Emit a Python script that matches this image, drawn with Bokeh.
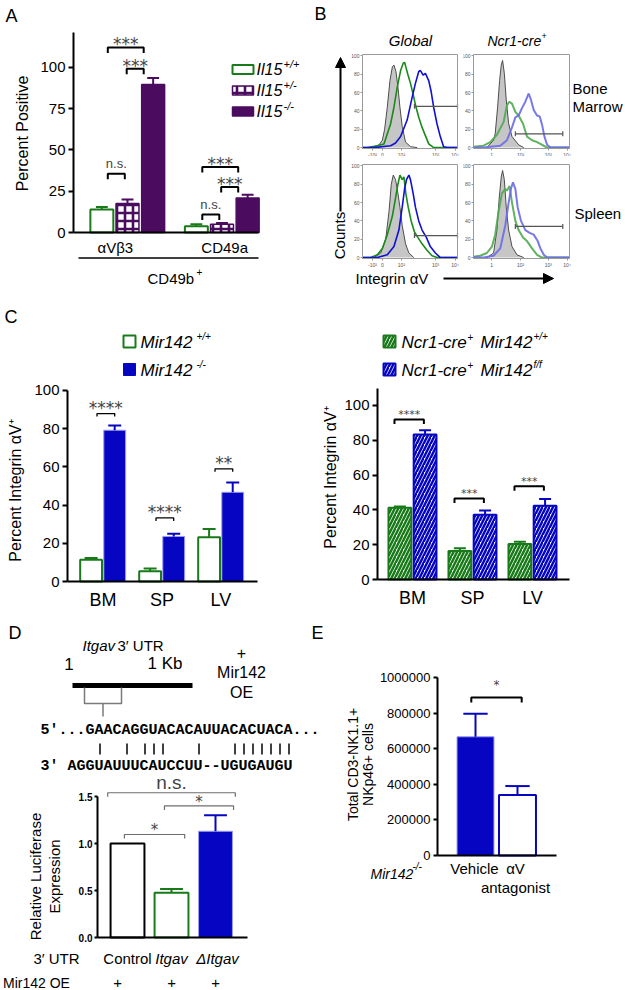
import math
from bokeh.plotting import figure
from bokeh.models import (Label, Range1d, FixedTicker, PrintfTickFormatter, Arrow, NormalHead)
from bokeh.layouts import row, column
from bokeh.embed import file_html
from bokeh.resources import INLINE

FONT = "Liberation Sans"
MONO = "Liberation Mono"
SYM = "DejaVu Sans"
GREEN = "#187a18"
PURPLE = "#4b0b5f"
BLUE = "#0606c2"
BLUE_EDGE = "#9b9bef"
GRAY_FILL = "#c6c6c6"

# ---------------- Panel A data ----------------
a_groups = ["αVβ3", "CD49a"]
a_genotypes = ["+/+", "+/-", "-/-"]
a_avb3 = [13.9, 17.5, 89.5]
a_avb3_err = [1.6, 2.4, 3.9]
a_cd49a = [3.8, 5.0, 20.9]
a_cd49a_err = [1.2, 0.8, 2.0]
a_ticks = [0, 25, 50, 75, 100]
a_label_x = [1.55, 5.6]
# (group, bar i, bar j, bracket height, label)
a_brackets = [(0, 0, 2, 112.0, "***"), (0, 1, 2, 99.0, "***"), (0, 0, 1, 35.6, "n.s."),
              (1, 0, 2, 39.6, "***"), (1, 1, 2, 27.6, "***"), (1, 0, 1, 10.9, "n.s.")]

# ---------------- Panel B data (histograms, % of max) ----------------
tl_gray_x = [10.5, 17.4, 20.9, 23.3, 26.1, 28.9, 31.4, 33.1, 35.2, 37.3, 39.4, 41.8, 45.3, 50.5, 57.5]
tl_gray_y = [0, 3, 8, 20, 44, 73, 88, 90, 83, 66, 44, 23, 6, 1, 0]
tl_green_x = [0, 5.2, 15.7, 22.6, 29.6, 33.1, 36.6, 40.1, 42.9, 44.3, 45.6, 47.7, 50.5, 53.3, 56.1, 59.2, 62.7, 66.2, 69.7, 74.9, 100]
tl_green_y = [0, 0, 2, 4, 26, 44, 66, 84, 92, 93, 88, 80, 70, 58, 45, 33, 22, 13, 4, 0, 0]
tl_blue_x = [0, 12.2, 29.6, 34.8, 40.1, 47.0, 52.3, 55.7, 59.2, 61.0, 63.8, 66.2, 69.7, 72.1, 74.9, 78.4, 81.9, 85.4, 88.9, 100]
tl_blue_y = [0, 0, 2, 5, 12, 30, 55, 70, 83, 84, 79, 81, 73, 62, 44, 26, 12, 1, 0, 0]
tl_gate = [54.7, 100, 45]

tr_gray_x = [13.9, 20.9, 22.6, 25.1, 27.2, 28.9, 30.3, 32.1, 34.1, 36.6, 40.1, 47.0, 52.3]
tr_gray_y = [0, 8, 15, 44, 73, 90, 95, 81, 52, 26, 12, 3, 0]
tr_green_x = [0, 10.5, 17.4, 24.4, 31.4, 34.8, 37.3, 40.1, 43.6, 47.0, 51.6, 55.7, 61.0, 66.2, 69.7, 73.2, 76.7, 100]
tr_green_y = [1, 2, 6, 14, 28, 46, 50, 48, 39, 35, 26, 12, 8, 6, 4, 2, 0, 0]
tr_blue_x = [0, 10.5, 27.9, 34.8, 40.1, 43.6, 47.0, 50.5, 54.0, 57.5, 59.9, 62.7, 66.2, 69.0, 71.4, 73.9, 76.7, 80.1, 100]
tr_blue_y = [0, 0, 2, 8, 22, 33, 35, 43, 50, 59, 52, 41, 35, 34, 25, 12, 3, 0, 0]
tr_gate = [43.6, 93.0, 15]

bl_gray_x = [12.2, 19.2, 24.4, 27.9, 30.3, 32.4, 34.8, 37.3, 39.4, 41.8, 45.3, 48.8, 54.0]
bl_gray_y = [0, 5, 20, 50, 80, 90, 85, 70, 55, 35, 15, 5, 0]
bl_green_x = [0, 8.7, 15.7, 20.9, 26.1, 31.4, 34.8, 37.3, 39.4, 41.8, 43.6, 45.6, 48.1, 51.2, 54.7, 58.2, 62.7, 67.9, 73.2, 78.4, 100]
bl_green_y = [0, 0, 3, 10, 25, 45, 65, 80, 90, 85, 88, 70, 55, 40, 28, 22, 15, 8, 2, 0, 0]
bl_blue_x = [0, 15.7, 26.1, 33.1, 38.3, 41.8, 44.3, 46.3, 48.8, 50.5, 53.3, 55.7, 59.2, 62.7, 67.2, 71.4, 76.7, 81.9, 100]
bl_blue_y = [0, 0, 3, 12, 30, 55, 75, 85, 90, 85, 70, 55, 40, 30, 22, 12, 5, 0, 0]
bl_gate = [54.7, 100, 24]

br_gray_x = [13.9, 20.9, 24.4, 26.8, 28.9, 30.3, 32.1, 34.1, 36.6, 40.1, 45.3, 52.3]
br_gray_y = [0, 5, 30, 65, 88, 95, 85, 55, 30, 12, 3, 0]
br_green_x = [0, 7.0, 13.9, 19.2, 22.6, 26.1, 29.6, 33.1, 34.8, 37.6, 40.1, 43.6, 47.0, 51.6, 55.7, 61.0, 66.2, 71.4, 100]
br_green_y = [1, 2, 5, 12, 25, 50, 70, 75, 73, 78, 60, 40, 30, 22, 18, 10, 3, 0, 0]
br_blue_x = [0, 10.5, 20.9, 27.9, 33.1, 36.6, 39.0, 41.1, 43.6, 46.0, 49.5, 54.0, 58.5, 62.7, 66.9, 69.7, 73.2, 76.7, 100]
br_blue_y = [0, 0, 2, 10, 35, 60, 75, 82, 75, 55, 40, 30, 27, 25, 18, 10, 3, 0, 0]
br_gate = [43.6, 93.0, 34]

b_xticks_global = [10.5, 21, 41, 77, 97.5]
b_xlabels_global = ["-10²", "0", "10²", "10³", "10⁴"]
b_xticks_ncr = [19, 49, 78, 97.5]
b_xlabels_ncr = ["1", "10²", "10³", "10⁴"]
b_yticks = [0, 20, 40, 60, 80, 100]

# ---------------- Panel C data ----------------
c_tissues = ["BM", "SP", "LV"]
c_wt = [11.4, 5.4, 23.2]
c_wt_err = [0.9, 1.4, 4.3]
c_ko = [79.2, 23.6, 46.7]
c_ko_err = [2.5, 1.4, 5.1]
c_left_br = [87.9, 33.3, 59.0]
c_left_sig = ["****", "****", "**"]
c_cre_wt = [41.3, 16.4, 20.4]
c_cre_wt_err = [0.7, 1.5, 1.3]
c_cre_ff = [83.3, 37.2, 42.4]
c_cre_ff_err = [2.5, 2.5, 3.9]
c_right_br = [91.9, 46.6, 53.6]
c_right_sig = ["****", "***", "***"]
c_ticks = [0, 20, 40, 60, 80, 100]

# ---------------- Panel D data ----------------
d_constructs = ["Control", "Itgav", "ΔItgav"]
d_mean = [1.0, 0.475, 1.13]
d_err = [0.0, 0.04, 0.17]
d_ticks = [0, 0.5, 1.0, 1.5]
# (left bar, right bar, left offset, right offset, height, label)
d_brackets = [(0, 2, -0.45, 0.45, 1.54, "n.s."), (1, 2, -0.16, 0.41, 1.40, "*"), (0, 1, -0.07, 0.30, 1.096, "*")]
seq_mrna = "...GAACAGGUACACAUUACACUACA..."
seq_mir = "AGGUAUUUCAUCCUU--UGUGAUGU"
pair_idx = [6, 9, 11, 12, 13, 17, 21, 22, 23, 24, 25, 26, 27]

# ---------------- Panel E data ----------------
e_groups = ["Vehicle", "αV antagonist"]
e_mean = [667000, 340000]
e_err = [130000, 50000]
e_ticks = [0, 200000, 400000, 600000, 800000, 1000000]
e_bracket = 888000


# ---------------- helpers ----------------
class F:
    """A figure whose frame fills its whole canvas; (frame, xr, yr) give the
    chart area and its data ranges, axes are pinned to the chart area."""

    def __init__(self, canvas, frame=None, xr=None, yr=None):
        x0, y0, x1, y1 = canvas
        blank = frame is None
        if blank:
            frame = canvas
            xr = (x0, x1)
            yr = (y1, y0)
        self.fr, self.xr, self.yr = frame, xr, yr
        p = figure(width=x1 - x0, height=y1 - y0,
                   x_range=Range1d(self.X(x0), self.X(x1)),
                   y_range=Range1d(self.Y(y1), self.Y(y0)),
                   output_backend="svg", toolbar_location=None,
                   min_border=0, min_border_left=0, min_border_right=0,
                   min_border_top=0, min_border_bottom=0,
                   x_axis_type=None if blank else "linear",
                   y_axis_type=None if blank else "linear")
        p.outline_line_color = None
        p.background_fill_color = "white"
        p.border_fill_color = "white"
        if not blank:
            p.xgrid.visible = False
            p.ygrid.visible = False
            p.yaxis[0].fixed_location = xr[0]
            p.xaxis[0].fixed_location = yr[0]
            p.xaxis[0].bounds = (xr[0], xr[1])
            p.yaxis[0].bounds = (yr[0], yr[1])
        self.p = p

    def X(self, sx):
        fx0, fy0, fx1, fy1 = self.fr
        return self.xr[0] + (sx - fx0) * (self.xr[1] - self.xr[0]) / (fx1 - fx0)

    def Y(self, sy):
        fx0, fy0, fx1, fy1 = self.fr
        return self.yr[0] + (fy1 - sy) * (self.yr[1] - self.yr[0]) / (fy1 - fy0)

    def SX(self, x):
        fx0, fy0, fx1, fy1 = self.fr
        return fx0 + (x - self.xr[0]) * (fx1 - fx0) / (self.xr[1] - self.xr[0])

    def SY(self, y):
        fx0, fy0, fx1, fy1 = self.fr
        return fy1 - (y - self.yr[0]) * (fy1 - fy0) / (self.yr[1] - self.yr[0])

    def dy(self, px):
        fx0, fy0, fx1, fy1 = self.fr
        return px * abs(self.yr[1] - self.yr[0]) / (fy1 - fy0)

    def sline(self, xs, ys, **kw):
        self.p.line([self.X(v) for v in xs], [self.Y(v) for v in ys], **kw)

    def lab(self, sx, sy, text, size, font=FONT, style="normal", align="left",
            baseline="middle", angle=0, color="black"):
        self.p.add_layout(Label(x=self.X(sx), y=self.Y(sy), text=text, text_font=font,
                                text_font_size=f"{size}px", text_font_style=style,
                                text_align=align, text_baseline=baseline, angle=angle,
                                text_color=color))


def style_axis(ax, size=14, lw=2, tick_out=5, standoff=3, bold=False, color="black"):
    ax.axis_line_width = lw
    ax.axis_line_color = color
    ax.major_tick_line_width = lw
    ax.major_tick_line_color = color
    ax.major_tick_out = tick_out
    ax.major_tick_in = 0
    ax.minor_tick_line_color = None
    ax.minor_tick_out = 0
    ax.major_label_text_font = FONT
    ax.major_label_text_font_size = f"{size}px"
    ax.major_label_text_font_style = "bold" if bold else "normal"
    ax.major_label_standoff = standoff
    ax.major_label_text_color = "black"


def errbars(f, xs, tops, errs, color, cap_half, lw=2):
    sx, y0, y1, cx0, cx1 = [], [], [], [], []
    for x, t, e in zip(xs, tops, errs):
        if e <= 0:
            continue
        sx.append(x); y0.append(t); y1.append(t + e)
        cx0.append(x - cap_half); cx1.append(x + cap_half)
    f.p.segment(x0=sx, y0=y0, x1=sx, y1=y1, line_color=color, line_width=lw)
    f.p.segment(x0=cx0, y0=y1, x1=cx1, y1=y1, line_color=color, line_width=lw)


def bracket(f, xl, xr, y, leg_px, lw, color="black"):
    leg = f.dy(leg_px)
    f.p.line([xl, xl, xr, xr], [y - leg, y, y, y - leg], line_width=lw, line_color=color)


def sig(f, xc, y, gap_px, text, size, font=SYM, k=0.23):
    # k: offset (in em) between glyph centre and the text box middle
    sy = f.SY(y) - gap_px + k * size
    f.p.add_layout(Label(x=xc, y=f.Y(sy), text=text, text_font=font, text_font_size=f"{size}px",
                         text_align="center", text_baseline="middle"))


# =================== Panel A ===================
fa = F((0, 0, 305, 290), (73, 32, 258, 232), (0, 185 / 27), (0, 121))
pa = fa.p
a_center = [2.0, 5.5]
a_step, a_w = 0.95, 0.85
a_vals = [[a_avb3[k], a_cd49a[k]] for k in range(3)]
a_errs = [[a_avb3_err[k], a_cd49a_err[k]] for k in range(3)]
a_styles = [dict(fill_color="white", line_color=GREEN, line_width=2),
            dict(fill_color="white", line_color=PURPLE, line_width=1.5, hatch_color=PURPLE,
                 hatch_pattern="cross", hatch_scale=8, hatch_weight=2.6),
            dict(fill_color=PURPLE, line_color=PURPLE, line_width=1.5)]
a_err_col = [GREEN, PURPLE, PURPLE]
for k in range(3):
    xs = [c + (k - 1) * a_step for c in a_center]
    pa.vbar(x=xs, top=a_vals[k], width=a_w, **a_styles[k])
    errbars(fa, xs, a_vals[k], a_errs[k], a_err_col[k], 0.22)
for g, i, j, yb, txt in a_brackets:
    xi = a_center[g] + (i - 1) * a_step
    xj = a_center[g] + (j - 1) * a_step
    xl = xi + (0.22 if i == 0 else -0.03)
    xr = xj + (-0.1 if j == 1 else -0.35)
    bracket(fa, xl, xr, yb, 5.5, 2)
    if txt == "n.s.":
        sig(fa, (xl + xr) / 2, yb, 9, txt, 13, font=FONT, k=-0.09)
    else:
        sig(fa, (xl + xr) / 2, yb, 7, txt, 17)
style_axis(pa.yaxis[0], size=15, tick_out=5, standoff=3)
pa.yaxis[0].ticker = FixedTicker(ticks=a_ticks)
style_axis(pa.xaxis[0], size=15, tick_out=0, standoff=6)
pa.xaxis[0].major_tick_line_color = None
pa.xaxis[0].ticker = FixedTicker(ticks=a_label_x)
pa.xaxis[0].major_label_overrides = {a_label_x[0]: a_groups[0], a_label_x[1]: a_groups[1]}
fa.lab(5, 15, "A", 18)
fa.lab(22, 133, "Percent Positive", 16, align="center", angle=math.pi / 2)
a_leg_y = [69, 90, 111]
for k in range(3):
    pa.rect(x=[fa.X(242.5)], y=[fa.Y(a_leg_y[k])], width=21, height=9,
            width_units="screen", height_units="screen", **a_styles[k])
    fa.lab(256, a_leg_y[k], "Il15", 16, style="italic")
    fa.lab(283, a_leg_y[k] - 6, a_genotypes[k], 11, style="italic")
fa.sline([78, 258], [257.5, 257.5], line_width=1.5, line_color="black")
fa.lab(147, 278, "CD49b", 15)
fa.lab(196, 271, "+", 10)

# =================== Panel B ===================
def hist_panel(canvas, frame, gx, gy, grx, gry, bx, by, gate, faded, xticks, xlabels):
    f = F(canvas, frame, (0, 100), (-1, 101.5))
    p = f.p
    p.varea(x=gx, y1=[0] * len(gx), y2=gy, fill_color=GRAY_FILL)
    p.line(gx, gy, line_color="#4d4d4d", line_width=1)
    if faded:
        p.line(grx, gry, line_color="#4fa84f", line_width=2, line_alpha=0.9)
        p.line(bx, by, line_color="#6a6ae8", line_width=2, line_alpha=0.9)
    else:
        p.line(grx, gry, line_color="#1a8a1a", line_width=1.6)
        p.line(bx, by, line_color="#1010d6", line_width=1.6)
    gl, gr, gv = gate
    p.line([gl, gr], [gv, gv], line_color="#555555", line_width=1.2)
    c = f.dy(2.5)
    p.segment(x0=[gl, gr], y0=[gv - c, gv - c], x1=[gl, gr], y1=[gv + c, gv + c],
              line_color="#555555", line_width=1.2)
    p.line([0, 100, 100], [101.5, 101.5, -1], line_color="#9a9a9a", line_width=1)
    for ax in (p.xaxis[0], p.yaxis[0]):
        style_axis(ax, size=5, lw=1, tick_out=2, standoff=1, color="#9a9a9a")
        ax.major_label_text_color = "#555555"
    p.yaxis[0].ticker = FixedTicker(ticks=b_yticks)
    p.xaxis[0].ticker = FixedTicker(ticks=xticks)
    p.xaxis[0].major_label_overrides = {t: s for t, s in zip(xticks, xlabels)}
    return f

btl = hist_panel((350, 0, 463, 156), (362, 54, 457, 148), tl_gray_x, tl_gray_y, tl_green_x, tl_green_y,
                 tl_blue_x, tl_blue_y, tl_gate, False, b_xticks_global, b_xlabels_global)
btr = hist_panel((463, 0, 625, 156), (473, 54, 569, 148), tr_gray_x, tr_gray_y, tr_green_x, tr_green_y,
                 tr_blue_x, tr_blue_y, tr_gate, True, b_xticks_ncr, b_xlabels_ncr)
bbl = hist_panel((350, 156, 463, 268), (362, 164, 457, 258), bl_gray_x, bl_gray_y, bl_green_x, bl_green_y,
                 bl_blue_x, bl_blue_y, bl_gate, False, b_xticks_global, b_xlabels_global)
bbr = hist_panel((463, 156, 625, 268), (473, 164, 569, 258), br_gray_x, br_gray_y, br_green_x, br_green_y,
                 br_blue_x, br_blue_y, br_gate, True, b_xticks_ncr, b_xlabels_ncr)
btl.lab(410, 40, "Global", 15, style="italic", align="center")
btr.lab(487, 40, "Ncr1-cre", 14, style="italic")
btr.lab(541, 35, "+", 9)
btr.lab(572, 88, "Bone", 15)
btr.lab(572, 106, "Marrow", 15)
bbr.lab(574, 213, "Spleen", 15)

bleft = F((305, 0, 350, 268))
bleft.lab(314, 13, "B", 18)
bleft.lab(339, 235, "Counts", 15, align="center", angle=math.pi / 2)
bleft.p.add_layout(Arrow(x_start=340, y_start=211, x_end=340, y_end=57, line_width=2, line_color="black",
                         end=NormalHead(size=10, fill_color="black", line_color="black")))
bfoot = F((305, 268, 625, 290))
bfoot.lab(355, 278, "Integrin αV", 15)
bfoot.p.add_layout(Arrow(x_start=443, y_start=278, x_end=553, y_end=278, line_width=2, line_color="black",
                         end=NormalHead(size=10, fill_color="black", line_color="black")))

# =================== Panel C ===================
def c_axes(f, bound_top):
    p = f.p
    style_axis(p.yaxis[0], size=15, tick_out=5, standoff=3)
    p.yaxis[0].ticker = FixedTicker(ticks=c_ticks)
    p.yaxis[0].bounds = (0, bound_top)
    style_axis(p.xaxis[0], size=18, tick_out=0, standoff=8)
    p.xaxis[0].major_tick_line_color = None
    p.xaxis[0].ticker = FixedTicker(ticks=[0, 1, 2])
    p.xaxis[0].major_label_overrides = {i: c_tissues[i] for i in range(3)}

fcl = F((0, 290, 305, 615), (67, 330, 257, 581), (-0.60, 2.62), (0, 131.4))
pcl = fcl.p
c_off, c_w = 0.2, 0.37
xs_l = [i - c_off for i in range(3)]
xs_r = [i + c_off for i in range(3)]
pcl.vbar(x=xs_l, top=c_wt, width=c_w, fill_color="white", line_color=GREEN, line_width=2)
pcl.vbar(x=xs_r, top=c_ko, width=c_w, fill_color=BLUE, line_color=BLUE_EDGE, line_width=1)
errbars(fcl, xs_l, c_wt, c_wt_err, GREEN, 0.11)
errbars(fcl, xs_r, c_ko, c_ko_err, BLUE, 0.11)
for i in range(3):
    xl, xr = xs_l[i] + 0.1, xs_r[i]
    bracket(fcl, xl, xr, c_left_br[i], 3, 1.3)
    sig(fcl, (xl + xr) / 2, c_left_br[i], 10, c_left_sig[i], 17)
c_axes(fcl, 100)
fcl.lab(4, 316, "C", 18)
fcl.lab(15, 490, "Percent Integrin αV⁺", 16, align="center", angle=math.pi / 2)
pcl.rect(x=[fcl.X(129)], y=[fcl.Y(341)], width=12, height=12, width_units="screen", height_units="screen",
         fill_color="white", line_color=GREEN, line_width=2)
pcl.rect(x=[fcl.X(129)], y=[fcl.Y(369)], width=12, height=12, width_units="screen", height_units="screen",
         fill_color=BLUE, line_color=BLUE, line_width=1)
fcl.lab(140, 342, "Mir142", 17, style="italic")
fcl.lab(196, 336, "+/+", 10, style="italic")
fcl.lab(140, 370, "Mir142", 17, style="italic")
fcl.lab(196, 364, "-/-", 10, style="italic")

fcr = F((305, 290, 625, 615), (377, 330, 569, 579), (-0.583, 2.617), (0, 143.1))
pcr = fcr.p
cr_off, cr_w = 0.21, 0.38
xs_l2 = [i - cr_off for i in range(3)]
xs_r2 = [i + cr_off for i in range(3)]
hatch_g = dict(fill_color="white", hatch_pattern="right_diagonal_line", hatch_color=GREEN,
               hatch_weight=2.5, hatch_scale=7, line_color=GREEN, line_width=2)
hatch_b = dict(fill_color="white", hatch_pattern="right_diagonal_line", hatch_color=BLUE,
               hatch_weight=2.5, hatch_scale=7, line_color=BLUE, line_width=2)
pcr.vbar(x=xs_l2, top=c_cre_wt, width=cr_w, **hatch_g)
pcr.vbar(x=xs_r2, top=c_cre_ff, width=cr_w, **hatch_b)
errbars(fcr, xs_l2, c_cre_wt, c_cre_wt_err, GREEN, 0.1)
errbars(fcr, xs_r2, c_cre_ff, c_cre_ff_err, BLUE, 0.1)
for i in range(3):
    xl, xr = xs_l2[i] - 0.09, xs_r2[i] - 0.02
    bracket(fcr, xl, xr, c_right_br[i], 4.5, 2)
    sig(fcr, (xl + xr) / 2, c_right_br[i], 7.5, c_right_sig[i], 11)
c_axes(fcr, 110)
fcr.lab(330, 477, "Percent Integrin αV⁺", 16, align="center", angle=math.pi / 2)
pcr.rect(x=[fcr.X(389)], y=[fcr.Y(341)], width=12, height=12, width_units="screen", height_units="screen", **hatch_g)
pcr.rect(x=[fcr.X(389)], y=[fcr.Y(369)], width=12, height=12, width_units="screen", height_units="screen", **hatch_b)
for yy, sup in ((342, "+/+"), (370, "f/f")):
    fcr.lab(401, yy, "Ncr1-cre", 17, style="italic")
    fcr.lab(467, yy - 6, "+", 10)
    fcr.lab(480, yy, "Mir142", 17, style="italic")
    fcr.lab(533, yy - 6, sup, 10, style="italic")

# =================== Panel D ===================
fd = F((0, 615, 323, 990), (97, 774, 247, 937), (-0.682, 2.727), (0, 163 / 94))
pd_ = fd.p
fd.lab(8, 632, "D", 18)
fd.lab(311, 632, "E", 18)
fd.lab(82, 645, "Itgav", 15, style="italic")
fd.lab(117, 645, "3′ UTR", 15)
fd.lab(68.5, 663, "1", 17, align="center")
fd.lab(147, 663, "1 Kb", 17)
fd.sline([72, 192], [685, 685], line_width=5, line_color="black")
fd.sline([84, 84, 121, 121], [687, 703, 703, 687], line_width=1.5, line_color="#7a7a7a")
fd.sline([102.5, 102.5], [703, 716], line_width=1.5, line_color="#7a7a7a")
fd.lab(241, 652, "+", 16, align="center")
fd.lab(241, 672, "Mir142", 16, align="center")
fd.lab(241, 692, "OE", 16, align="center")
CH = 9.0
SX0 = 40
fd.lab(SX0, 730, "5′", 15, font=MONO, style="bold")
fd.lab(SX0 + 2 * CH, 730, seq_mrna, 15, font=MONO, style="bold")
for i in pair_idx:
    xx = SX0 + CH * i + CH / 2 + 1
    fd.sline([xx, xx], [743, 754], line_width=1.5, line_color="black")
fd.lab(SX0, 766, "3′", 15, font=MONO, style="bold")
fd.lab(SX0 + 3 * CH, 766, seq_mir, 15, font=MONO, style="bold")

d_w = 0.77
d_x = [0, 1, 2]
pd_.vbar(x=[0], top=[d_mean[0]], width=d_w, fill_color="white", line_color="black", line_width=2)
pd_.vbar(x=[1], top=[d_mean[1]], width=d_w, fill_color="white", line_color=GREEN, line_width=2)
pd_.vbar(x=[2], top=[d_mean[2]], width=d_w, fill_color=BLUE, line_color=BLUE_EDGE, line_width=1)
errbars(fd, [1], [d_mean[1]], [d_err[1]], GREEN, 0.26)
errbars(fd, [2], [d_mean[2]], [d_err[2]], BLUE, 0.26)
for i, j, ol, orr, yb, txt in d_brackets:
    xl, xr = d_x[i] + ol, d_x[j] + orr
    bracket(fd, xl, xr, yb, 4, 1.2, color="#6e6e6e")
    if txt == "n.s.":
        sig(fd, (xl + xr) / 2, yb, 9, txt, 19, font=FONT, k=-0.09)
    else:
        sig(fd, (xl + xr) / 2, yb, 7.5, txt, 15)
style_axis(pd_.yaxis[0], size=10, tick_out=3, standoff=2, bold=True)
pd_.yaxis[0].ticker = FixedTicker(ticks=d_ticks)
pd_.yaxis[0].formatter = PrintfTickFormatter(format="%.1f")
pd_.yaxis[0].bounds = (0, 1.5)
style_axis(pd_.xaxis[0], size=10, tick_out=0, standoff=0)
pd_.xaxis[0].ticker = FixedTicker(ticks=[])
fd.lab(35, 876, "Relative Luciferase", 15, align="center", angle=math.pi / 2)
fd.lab(54, 876, "Expression", 15, align="center", angle=math.pi / 2)
fd.lab(56, 958, "3′ UTR", 15, align="center")
d_lab_style = ["normal", "italic", "italic"]
for i in range(3):
    cx = fd.SX(d_x[i])
    fd.lab(cx + (2 if i == 2 else 0), 958, d_constructs[i], 15, style=d_lab_style[i], align="center")
    fd.lab(cx - 10 if i == 0 else cx, 982, "+", 15, align="center")
fd.lab(36, 982, "Mir142 OE", 14, align="center")

# =================== Panel E ===================
fe = F((323, 615, 625, 990), (437, 670, 556, 855), (-0.905, 1.929), (0, 185 / 178 * 1e6))
pe = fe.p
e_w = 0.88
pe.vbar(x=[0], top=[e_mean[0]], width=e_w, fill_color=BLUE, line_color=BLUE_EDGE, line_width=1)
pe.vbar(x=[1], top=[e_mean[1]], width=e_w, fill_color="white", line_color=BLUE, line_width=2)
errbars(fe, [0, 1], e_mean, e_err, BLUE, 0.29)
bracket(fe, -0.1, 1.1, e_bracket, 5, 2)
sig(fe, 0.5, e_bracket, 15, "*", 12)
style_axis(pe.yaxis[0], size=13, tick_out=4, standoff=3)
pe.yaxis[0].ticker = FixedTicker(ticks=e_ticks)
pe.yaxis[0].formatter = PrintfTickFormatter(format="%d")
pe.yaxis[0].bounds = (0, 1000000)
style_axis(pe.xaxis[0], size=10, tick_out=0, standoff=0)
pe.xaxis[0].ticker = FixedTicker(ticks=[])
fe.lab(352, 764, "Total CD3-NK1.1+", 14, align="center", angle=math.pi / 2)
fe.lab(367, 764, "NKp46+ cells", 14, align="center", angle=math.pi / 2)
fe.lab(474, 868, "Vehicle", 15, align="center")
fe.lab(515, 868, "αV", 15, align="center")
fe.lab(515, 887, "antagonist", 15, align="center")
fe.lab(370, 873, "Mir142", 14, style="italic")
fe.lab(412, 866, "-/-", 10, style="italic")

# =================== layout ===================
b_col = column(row(bleft.p, column(row(btl.p, btr.p), row(bbl.p, bbr.p))), bfoot.p)
layout = column(row(fa.p, b_col), row(fcl.p, fcr.p), row(fd.p, fe.p))

open("out.html", "w").write(file_html(layout, INLINE))
